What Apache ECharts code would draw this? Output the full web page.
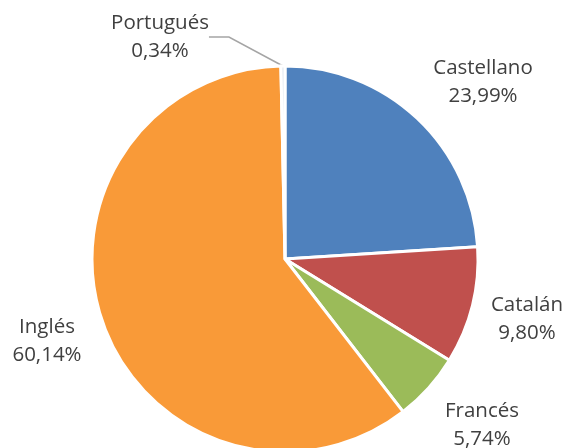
<!DOCTYPE html>
<html><head><meta charset="utf-8">
<script src="https://cdn.jsdelivr.net/npm/echarts@6/dist/echarts.min.js"></script>
<style>html,body{margin:0;padding:0;background:#fff}#c{width:563px;height:448px}</style>
</head><body><div id="c"></div>
<script>
const categories = ['Castellano', 'Catalán', 'Francés', 'Inglés', 'Portugués'];
const values = [23.99, 9.80, 5.74, 60.14, 0.34];

const colors = ['#4f81bd', '#c0504d', '#9bbb59', '#f99a38', '#dfe6ef'];
const labelPos = [[483, 82], [527, 319], [482, 425], [47, 341], [160, 37]];

const chart = echarts.init(document.getElementById('c'));
chart.setOption({
  animation: false,
  series: [{
    type: 'pie',
    center: [285, 259],
    radius: 193,
    startAngle: 90,
    clockwise: true,
    itemStyle: { borderColor: '#fff', borderWidth: 3 },
    data: categories.map((c, i) => ({
      name: c, value: values[i],
      itemStyle: { color: colors[i] },
      labelLine: { show: i === 4, lineStyle: { color: '#a5a5a5', width: 1.5 } }
    })),
    label: {
      show: true,
      position: 'outside',
      overflow: 'none',
      formatter: p => p.name + '\n' + p.value.toFixed(2).replace('.', ',') + '%',
      fontFamily: 'Open Sans',
      fontSize: 20.5,
      lineHeight: 28,
      color: '#404040',
      align: 'center'
    },
    labelLine: { show: true, length: 20, length2: 20 },
    labelLayout: p => ({
      x: labelPos[p.dataIndex][0],
      y: labelPos[p.dataIndex][1],
      align: 'center',
      verticalAlign: 'middle'
    })
  }]
});
</script></body></html>
